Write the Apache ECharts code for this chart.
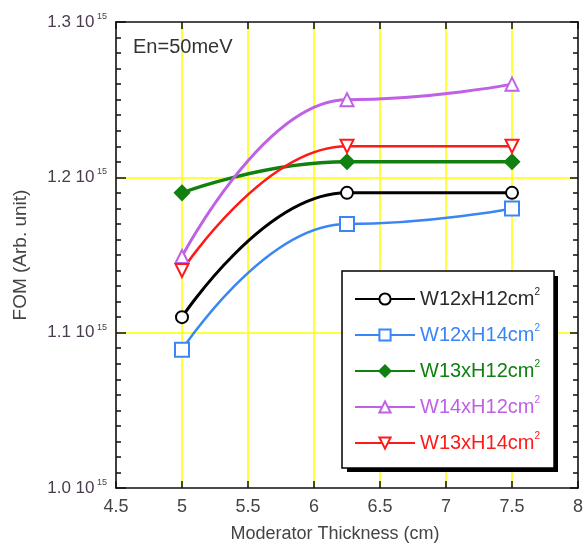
<!DOCTYPE html>
<html>
<head>
<meta charset="utf-8">
<script src="https://cdn.jsdelivr.net/npm/echarts@6/dist/echarts.min.js"></script>
<style>
    html, body { margin: 0; padding: 0; background: #ffffff; }
    #fomChart { width: 587px; height: 549px; }
</style>
</head>
<body>
<div id="fomChart"></div>
<script>
    // moderator thickness (cm)
    var thickness = [5, 6.25, 7.5];
    // FOM in units of 10^15
    var w12h12 = [1.110, 1.190, 1.190];
    var w12h14 = [1.089, 1.170, 1.180];
    var w13h12 = [1.190, 1.210, 1.210];
    var w14h12 = [1.149, 1.250, 1.260];
    var w13h14 = [1.140, 1.220, 1.220];
    var xTicks = [4.5, 5, 5.5, 6, 6.5, 7, 7.5, 8];
    var yTicks = [1.0, 1.1, 1.2, 1.3];

    function pairs(ys) {
        return thickness.map(function (x, i) { return [x, ys[i]] })
    }

    var labelColor = '#4a3b4e';
    var axisBlack = { lineStyle: { color: '#111', width: 1.6 } };

    function makeSeries(name, ys, color, symbol, size, width, rotate) {
        return {
            name: name,
            type: 'line',
            data: pairs(ys),
            smooth: 0.5,
            smoothMonotone: 'x',
            symbol: symbol,
            symbolSize: size,
            symbolRotate: rotate || 0,
            showAllSymbol: true,
            lineStyle: { color: color, width: width },
            itemStyle: { color: color, borderColor: color, borderWidth: 1.5 },
            z: 3
        }
    }

    var chart = echarts.init(document.getElementById('fomChart'));
    var options = {
        animation: false,
        backgroundColor: '#ffffff',
        title: {
            text: 'En=50meV',
            left: 133,
            top: 37,
            padding: 0,
            textStyle: { fontFamily: 'Liberation Sans', fontSize: 20, fontWeight: 'normal', color: '#333' }
        },
        // drop shadow of the legend box
        graphic: [
            {
                type: 'rect',
                left: 347,
                top: 276,
                z: 4,
                shape: { width: 211, height: 196 },
                style: { fill: '#000' }
            }
        ],
        grid: { left: 116, right: 9, top: 22, bottom: 61, containLabel: false },
        legend: {
            left: 342,
            top: 271,
            z: 6,
            orient: 'vertical',
            padding: [16, 14, 13, 12],
            itemWidth: 60,
            itemHeight: 14,
            itemGap: 12,
            backgroundColor: '#ffffff',
            borderColor: '#000',
            borderWidth: 1.5,
            borderRadius: 0,
            selectedMode: false,
            formatter: function (name) {
                return '{n|' + name + '}{s|2}'
            },
            textStyle: {
                fontFamily: 'Liberation Sans',
                fontSize: 20,
                lineHeight: 24,
                rich: {
                    n: { fontFamily: 'Liberation Sans', fontSize: 20, lineHeight: 24 },
                    s: { fontFamily: 'Liberation Sans', fontSize: 10, lineHeight: 10, verticalAlign: 'top' }
                }
            },
            data: [
                { name: 'W12xH12cm', textStyle: { color: '#2a2a2a' } },
                { name: 'W12xH14cm', textStyle: { color: '#3a86f5' } },
                { name: 'W13xH12cm', textStyle: { color: '#118011' } },
                { name: 'W14xH12cm', textStyle: { color: '#c060e6' } },
                { name: 'W13xH14cm', textStyle: { color: '#ff1a1a' } }
            ]
        },
        xAxis: [
            {
                type: 'value',
                position: 'bottom',
                min: xTicks[0],
                max: xTicks[xTicks.length - 1],
                interval: 0.5,
                name: 'Moderator Thickness (cm)',
                nameLocation: 'middle',
                nameGap: 37,
                nameTextStyle: { fontFamily: 'Liberation Sans', fontSize: 18, color: '#444', padding: [0, 24, 0, 0] },
                axisLine: axisBlack,
                axisTick: { inside: true, length: 7, lineStyle: { color: '#111', width: 1.5 } },
                axisLabel: { fontFamily: 'Liberation Sans', fontSize: 18, color: '#444', margin: 10 },
                splitLine: { show: true, showMinLine: false, showMaxLine: false, lineStyle: { color: '#ffff00', width: 1.5 } }
            },
            {
                type: 'value',
                position: 'top',
                min: xTicks[0],
                max: xTicks[xTicks.length - 1],
                interval: 0.5,
                axisLine: axisBlack,
                axisTick: { inside: true, length: 7, lineStyle: { color: '#111', width: 1.5 } },
                axisLabel: { show: false },
                splitLine: { show: false }
            }
        ],
        yAxis: [
            {
                type: 'value',
                position: 'left',
                min: yTicks[0],
                max: yTicks[yTicks.length - 1],
                interval: 0.1,
                name: 'FOM (Arb. unit)',
                nameLocation: 'middle',
                nameGap: 86,
                nameTextStyle: { fontFamily: 'Liberation Sans', fontSize: 19, color: '#444' },
                axisLine: axisBlack,
                axisTick: { inside: true, length: 10, lineStyle: { color: '#111', width: 1.5 } },
                minorTick: { show: true, splitNumber: 10, length: 5, lineStyle: { color: '#111', width: 1.5 } },
                axisLabel: {
                    margin: 9,
                    formatter: function (v) {
                        return '{a|' + v.toFixed(1) + ' 10}{s| 15}'
                    },
                    rich: {
                        a: { fontFamily: 'Liberation Sans', fontSize: 17, lineHeight: 20, color: labelColor },
                        s: { fontFamily: 'Liberation Sans', fontSize: 9, lineHeight: 9, verticalAlign: 'top', color: labelColor }
                    }
                },
                splitLine: { show: true, showMinLine: false, showMaxLine: false, lineStyle: { color: '#ffff00', width: 1.5 } }
            },
            {
                type: 'value',
                position: 'right',
                min: yTicks[0],
                max: yTicks[yTicks.length - 1],
                interval: 0.1,
                axisLine: axisBlack,
                axisTick: { inside: true, length: 8, lineStyle: { color: '#111', width: 1.5 } },
                minorTick: { show: true, splitNumber: 10, length: 5, lineStyle: { color: '#111', width: 1.5 } },
                axisLabel: { show: false },
                splitLine: { show: false }
            }
        ],
        series: [
            makeSeries('W12xH12cm', w12h12, '#000000', 'emptyCircle', 12, 3),
            makeSeries('W12xH14cm', w12h14, '#3a86f5', 'emptyRect', 14, 2.5),
            makeSeries('W13xH12cm', w13h12, '#118011', 'diamond', 15, 3.5),
            makeSeries('W14xH12cm', w14h12, '#c060e6', 'emptyTriangle', 13, 3),
            makeSeries('W13xH14cm', w13h14, '#ff1a1a', 'emptyTriangle', 13, 2.5, 180)
        ]
    };
    chart.setOption(options);
</script>
</body>
</html>
